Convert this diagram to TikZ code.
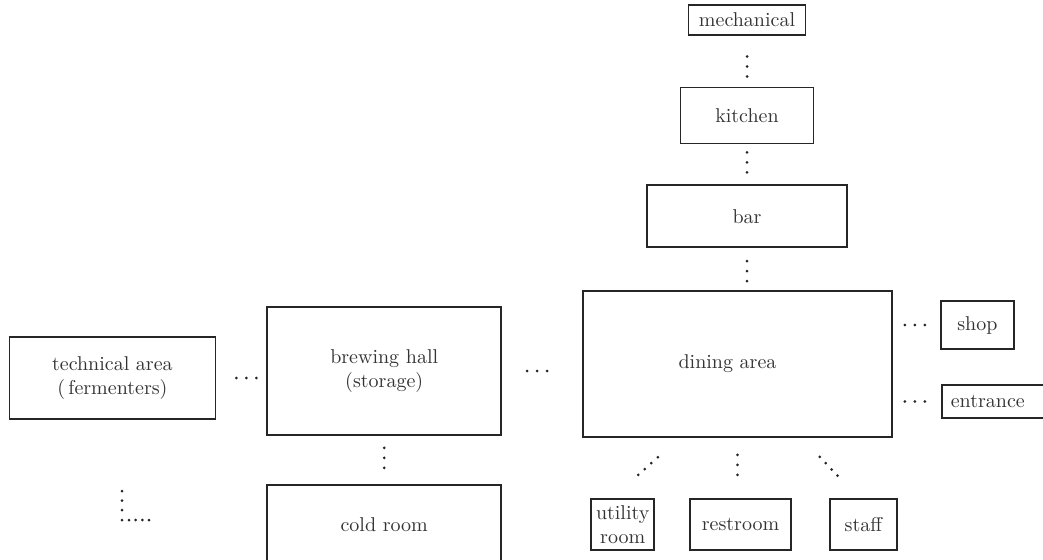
\documentclass[tikz,border=0pt]{standalone}
\usepackage{amsmath}
\usepackage{tikz}
\usetikzlibrary{positioning}

\tikzset{
  room/.style={draw=black!85, line width=0.9pt, text=black!80, align=center, inner sep=2pt},
  vlink/.style={draw=black!85, line width=1.5pt, line cap=round, dash pattern=on 0pt off 5pt},
  dlink/.style={vlink, dash pattern=on 0pt off 4.4pt},
}

\begin{document}
\begin{tikzpicture}[x=0.5pt,y=0.5pt]
        \useasboundingbox (0,0) rectangle (1043,559);
        % Nodes
        \node[room, minimum width=154.5pt, minimum height=73pt] (dining) at (737.5,195) {dining area\hspace*{10pt}};
        \node[room, minimum width=100pt, minimum height=31pt, above=21pt of dining, xshift=4.75pt] (bar) {bar};
        \node[room, minimum width=66.5pt, minimum height=28pt, above=20pt of bar] (kitchen) {kitchen};
        \node[room, minimum width=58.5pt, minimum height=15pt, above=25.5pt of kitchen] (mech) {mechanical};
        \node[room, minimum width=36.5pt, minimum height=24pt, right=23.5pt of dining, yshift=19.5pt] (shop) {shop};
        \node[room, text width=50pt, align=left, inner xsep=4.5pt, minimum height=16.5pt,
              right=24pt of dining, yshift=-18.75pt] (entr) {entrance};
        \node[room, minimum width=117pt, minimum height=64pt, left=40pt of dining, yshift=-3.5pt] (brew) {brewing hall\\(storage)};
        \node[room, minimum width=103pt, minimum height=41pt, left=25pt of brew, yshift=-3.5pt] (tech) {technical area\\(\,fermenters)};
        \node[room, minimum width=117pt, minimum height=40pt, below=24pt of brew] (cold) {cold room};
        \node[room, minimum width=50.5pt, minimum height=25.5pt, below=30pt of dining, xshift=1.5pt] (rest) {restroom};
        \node[room, minimum width=31.5pt, minimum height=25.5pt, left=17pt of rest] (util) {utility\\room};
        \node[room, minimum width=33.5pt, minimum height=25.5pt, right=18.5pt of rest] (staff) {staff};

        % Dotted links
        \draw[vlink, shorten <=10.5pt, shorten >=4.9pt] (mech.south) -- (kitchen.north);
        \draw[vlink, shorten <=4pt, shorten >=5.9pt] (kitchen.south) -- (bar.north);
        \draw[vlink, shorten <=6.5pt, shorten >=4.4pt] (bar.south) -- (bar.south |- dining.north);
        \draw[vlink, shorten <=6pt, shorten >=7.9pt] (brew.south) -- (cold.north);
        \draw[vlink, shorten <=10pt, shorten >=4.9pt] (tech.east) -- (tech.east -| brew.west);
        \draw[vlink, shorten <=12.5pt, shorten >=17.4pt] (brew.east) -- (brew.east -| dining.west);
        \draw[vlink, shorten <=6pt, shorten >=7.4pt] (dining.east |- shop.west) -- (shop.west);
        \draw[vlink, shorten <=6pt, shorten >=7.9pt] (dining.east |- entr.west) -- (entr.west);
        \draw[vlink, shorten <=8.5pt, shorten >=11.4pt] (dining.south) -- (dining.south |- rest.north);
        \draw[dlink] ([shift={(7.75pt,11.5pt)}]util.north) -- ++(10pt,9pt);
        \draw[dlink, dash pattern=on 0pt off 4.3pt] ([shift={(-21.75pt,20.5pt)}]staff.north) -- ++(9pt,-9.5pt);

        % corner dots
        \foreach \y in {68,58.5,49,39}
            \fill[black!85] (122,\y) circle (0.75pt);
        \foreach \x in {129,135.7,142.3,149}
            \fill[black!85] (\x,39) circle (0.75pt);
\end{tikzpicture}
\end{document}
